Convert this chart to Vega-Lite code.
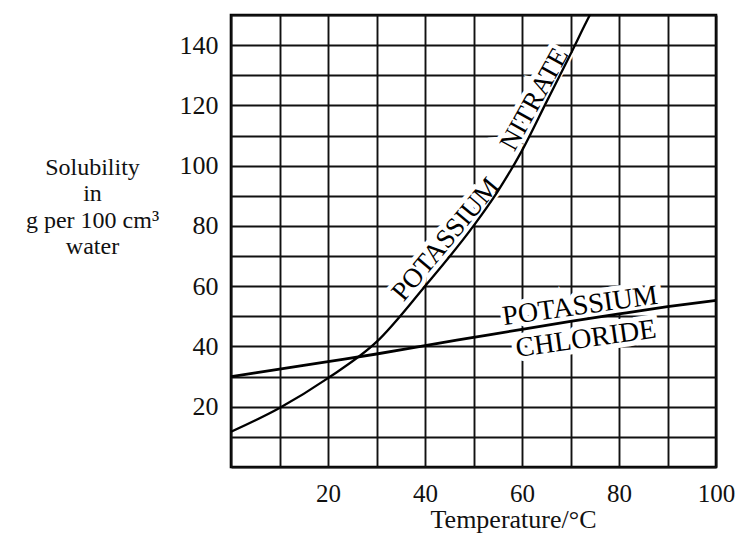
{
  "$schema": "https://vega.github.io/schema/vega-lite/v6.json",
  "width": 485,
  "height": 452,
  "autosize": {"type": "none"},
  "padding": {"left": 231, "top": 15, "right": 22, "bottom": 79},
  "background": "white",
  "config": {
    "view": {"stroke": "#000", "strokeWidth": 2.6},
    "font": "Liberation Serif",
    "text": {"font": "Liberation Serif"}
  },
  "datasets": {
    "kno3": [
      {"temp": 0, "sol": 11.7},
      {"temp": 10, "sol": 19.6},
      {"temp": 20, "sol": 29.5},
      {"temp": 30, "sol": 41.5},
      {"temp": 40, "sol": 60},
      {"temp": 50, "sol": 80},
      {"temp": 55, "sol": 91.5},
      {"temp": 60, "sol": 105},
      {"temp": 65, "sol": 121},
      {"temp": 70, "sol": 137},
      {"temp": 74, "sol": 150},
      {"temp": 75, "sol": 153}
    ],
    "kcl": [
      {"temp": 0, "sol": 30},
      {"temp": 10, "sol": 32.5},
      {"temp": 20, "sol": 35},
      {"temp": 30, "sol": 37.5},
      {"temp": 40, "sol": 40.3},
      {"temp": 50, "sol": 43},
      {"temp": 60, "sol": 45.7},
      {"temp": 70, "sol": 48.3},
      {"temp": 80, "sol": 50.8},
      {"temp": 90, "sol": 53.2},
      {"temp": 100, "sol": 55.3}
    ]
  },
  "encoding": {
    "x": {
      "field": "temp", "type": "quantitative",
      "scale": {"domain": [0, 100], "nice": false, "zero": false},
      "axis": {
        "values": [0, 10, 20, 30, 40, 50, 60, 70, 80, 90, 100],
        "labelExpr": "datum.value % 20 == 0 && datum.value > 0 ? datum.label : ''",
        "grid": true, "gridColor": "#111", "gridWidth": 1.9, "gridOpacity": 1,
        "domain": false, "ticks": false, "tickSize": 0,
        "labelFont": "Liberation Serif", "labelFontSize": 25, "labelColor": "#111",
        "labelPadding": 14, "labelFlush": false,
        "title": "Temperature/°C",
        "titleFont": "Liberation Serif", "titleFontSize": 26, "titleFontWeight": "normal", "titleColor": "#111",
        "titleX": 282, "titleY": 60, "titleAlign": "center", "titleBaseline": "alphabetic"
      }
    },
    "y": {
      "field": "sol", "type": "quantitative",
      "scale": {"domain": [0, 150], "nice": false, "zero": false},
      "axis": {
        "values": [0, 10, 20, 30, 40, 50, 60, 70, 80, 90, 100, 110, 120, 130, 140, 150],
        "labelExpr": "datum.value % 20 == 0 && datum.value > 0 ? datum.label : ''",
        "grid": true, "gridColor": "#111", "gridWidth": 1.9, "gridOpacity": 1,
        "domain": false, "ticks": false, "tickSize": 0,
        "labelFont": "Liberation Serif", "labelFontSize": 26, "labelColor": "#111",
        "labelPadding": 13, "labelFlush": false,
        "title": ["Solubility", "in", "g per 100 cm³", "water"],
        "titleFont": "Liberation Serif", "titleFontSize": 24, "titleFontWeight": "normal", "titleColor": "#111",
        "titleAngle": 0, "titleX": -139, "titleY": 159, "titleAlign": "center", "titleBaseline": "alphabetic",
        "titleLineHeight": 26.5
      }
    }
  },
  "layer": [
    {
      "data": {"values": [
        {"label": "POTASSIUM", "temp": 44.3, "sol": 75.5}
      ]},
      "mark": {"type": "text", "angle": -50, "fontSize": 27, "align": "center", "baseline": "middle", "color": "white", "stroke": "white", "strokeWidth": 9},
      "encoding": {"text": {"field": "label"}}
    },
    {
      "data": {"values": [
        {"label": "NITRATE", "temp": 62.6, "sol": 122}
      ]},
      "mark": {"type": "text", "angle": -61, "fontSize": 27, "align": "center", "baseline": "middle", "color": "white", "stroke": "white", "strokeWidth": 9},
      "encoding": {"text": {"field": "label"}}
    },
    {
      "data": {"values": [
        {"label": "POTASSIUM", "temp": 72, "sol": 53.3},
        {"label": "CHLORIDE", "temp": 73.2, "sol": 42.4}
      ]},
      "mark": {"type": "text", "angle": -8, "fontSize": 28, "align": "center", "baseline": "middle", "color": "white", "stroke": "white", "strokeWidth": 10},
      "encoding": {"text": {"field": "label"}}
    },
    {
      "data": {"name": "kno3"},
      "mark": {"type": "line", "color": "#000", "strokeWidth": 2.3, "interpolate": "monotone", "clip": true},
      "encoding": {}
    },
    {
      "data": {"name": "kcl"},
      "mark": {"type": "line", "color": "#000", "strokeWidth": 2.8, "interpolate": "monotone", "clip": true},
      "encoding": {}
    },
    {
      "data": {"values": [
        {"label": "POTASSIUM", "temp": 44.3, "sol": 75.5}
      ]},
      "mark": {"type": "text", "angle": -50, "fontSize": 27, "align": "center", "baseline": "middle", "color": "#000"},
      "encoding": {"text": {"field": "label"}}
    },
    {
      "data": {"values": [
        {"label": "NITRATE", "temp": 62.6, "sol": 122}
      ]},
      "mark": {"type": "text", "angle": -61, "fontSize": 27, "align": "center", "baseline": "middle", "color": "#000"},
      "encoding": {"text": {"field": "label"}}
    },
    {
      "data": {"values": [
        {"label": "POTASSIUM", "temp": 72, "sol": 53.3},
        {"label": "CHLORIDE", "temp": 73.2, "sol": 42.4}
      ]},
      "mark": {"type": "text", "angle": -8, "fontSize": 28, "align": "center", "baseline": "middle", "color": "#000"},
      "encoding": {"text": {"field": "label"}}
    }
  ]
}
